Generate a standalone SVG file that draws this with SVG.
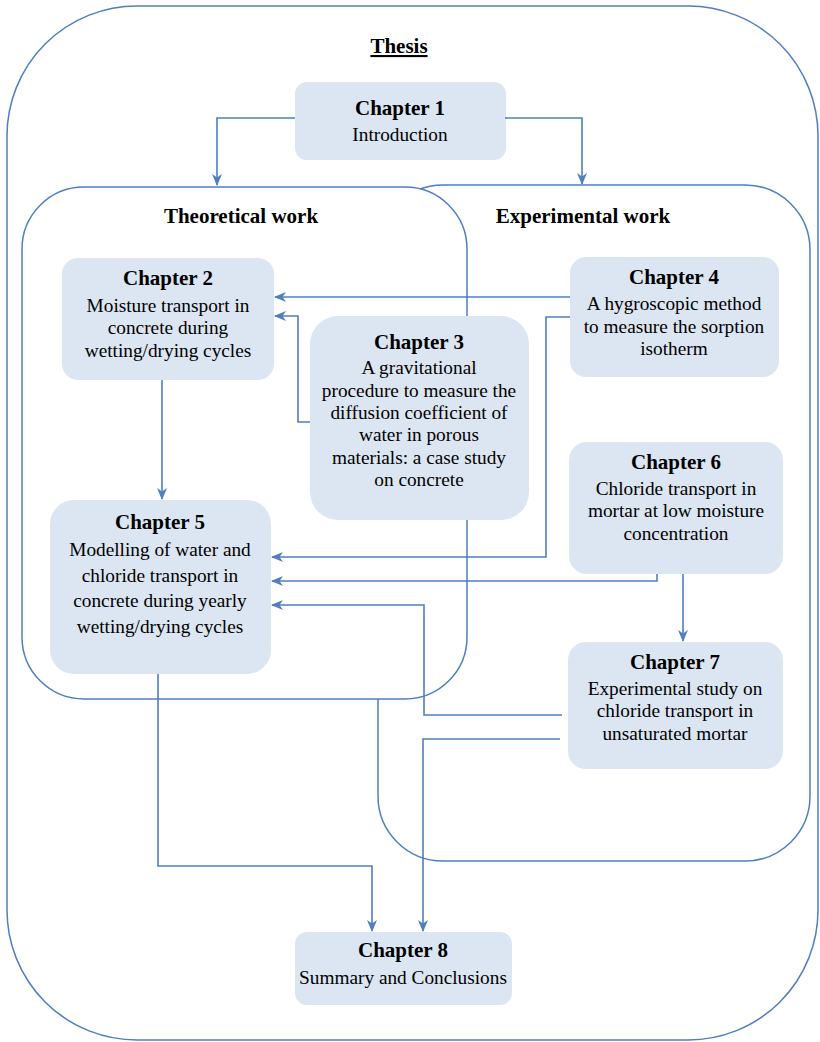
<svg xmlns="http://www.w3.org/2000/svg" width="820" height="1042" viewBox="0 0 820 1042">
<style>
.frame{fill:none;stroke:#4f7fbe;stroke-width:1.5}
.group{fill:#ffffff;stroke:#4f7fbe;stroke-width:1.5}
.box{fill:#dce6f2;stroke:none}
.t{font-family:"Liberation Serif","Times New Roman",serif;font-size:21px;font-weight:bold;fill:#000;text-anchor:middle}
.b{font-family:"Liberation Serif","Times New Roman",serif;font-size:19.3px;fill:#000;text-anchor:middle}
.conn path{fill:none;stroke:#4f7fbe;stroke-width:1.6;marker-end:url(#ah)}
</style>
<defs>
<marker id="ah" viewBox="0 0 12 12" markerWidth="12" markerHeight="12" refX="11" refY="6" orient="auto" markerUnits="userSpaceOnUse">
<path d="M0,1 L12,6 L0,11 L3.5,6 z" fill="#4f7fbe"/>
</marker>
</defs>

<g id="thesis">
<rect class="frame" x="7" y="6" width="811" height="1034" rx="130" ry="130"/>
<text class="t" x="399" y="53" font-size="22" text-decoration="underline">Thesis</text>
</g>

<g id="experimental">
<rect class="group" x="378" y="185" width="432" height="676" rx="65" ry="65"/>
<text class="t" x="583" y="223">Experimental work</text>
</g>

<g id="theoretical">
<rect class="group" x="22" y="187" width="445" height="512" rx="62" ry="62"/>
<text class="t" x="241" y="223">Theoretical work</text>
</g>

<g id="ch1">
<rect class="box" x="295" y="82" width="211" height="78" rx="12"/>
<text class="t" x="400" y="115">Chapter 1</text>
<text class="b" x="400" y="141">Introduction</text>
</g>

<g id="ch2">
<rect class="box" x="62" y="258" width="212" height="122" rx="16"/>
<text class="t" x="168" y="285">Chapter 2</text>
<text class="b" x="168" y="312">Moisture transport in</text>
<text class="b" x="168" y="334">concrete during</text>
<text class="b" x="168" y="357">wetting/drying cycles</text>
</g>

<g id="ch3">
<rect class="box" x="310" y="316" width="219" height="204" rx="28"/>
<text class="t" x="419" y="349">Chapter 3</text>
<text class="b" x="419" y="374">A gravitational</text>
<text class="b" x="419" y="397">procedure to measure the</text>
<text class="b" x="419" y="419">diffusion coefficient of</text>
<text class="b" x="419" y="441">water in porous</text>
<text class="b" x="419" y="464">materials: a case study</text>
<text class="b" x="419" y="486">on concrete</text>
</g>

<g id="ch4">
<rect class="box" x="570" y="257" width="209" height="120" rx="16"/>
<text class="t" x="674" y="284">Chapter 4</text>
<text class="b" x="674" y="310">A hygroscopic method</text>
<text class="b" x="674" y="333">to measure the sorption</text>
<text class="b" x="674" y="355">isotherm</text>
</g>

<g id="ch6">
<rect class="box" x="569" y="442" width="214" height="132" rx="18"/>
<text class="t" x="676" y="469">Chapter 6</text>
<text class="b" x="676" y="495">Chloride transport in</text>
<text class="b" x="676" y="517">mortar at low moisture</text>
<text class="b" x="676" y="540">concentration</text>
</g>

<g id="ch5">
<rect class="box" x="50" y="500" width="221" height="174" rx="24"/>
<text class="t" x="160" y="529">Chapter 5</text>
<text class="b" x="160" y="556">Modelling of water and</text>
<text class="b" x="160" y="582">chloride transport in</text>
<text class="b" x="160" y="607">concrete during yearly</text>
<text class="b" x="160" y="633">wetting/drying cycles</text>
</g>

<g id="ch7">
<rect class="box" x="568" y="642" width="215" height="127" rx="18"/>
<text class="t" x="675" y="669">Chapter 7</text>
<text class="b" x="675" y="695">Experimental study on</text>
<text class="b" x="675" y="717">chloride transport in</text>
<text class="b" x="675" y="740">unsaturated mortar</text>
</g>

<g id="ch8">
<rect class="box" x="295" y="932" width="217" height="73" rx="12"/>
<text class="t" x="403" y="957">Chapter 8</text>
<text class="b" x="403" y="984">Summary and Conclusions</text>
</g>

<g id="connectors" class="conn">
<path d="M295,118 H217 V185"/>
<path d="M505,118 H582 V184"/>
<path d="M570,297 H275"/>
<path d="M310,422 H298 V316 H275"/>
<path d="M570,317 H546 V557 H272"/>
<path d="M657,574 V581 H272"/>
<path d="M683,574 V641"/>
<path d="M562,715 H424 V605 H272"/>
<path d="M560,739 H423 V931"/>
<path d="M158,674 V866 H372 V931"/>
<path d="M162,380 V499"/>
</g>
</svg>
